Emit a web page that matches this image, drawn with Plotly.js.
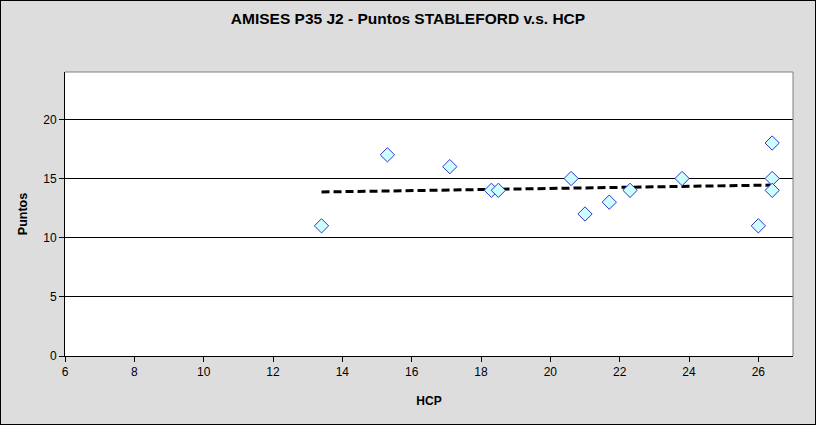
<!DOCTYPE html>
<html>
<head>
<meta charset="utf-8">
<script src="https://cdn.plot.ly/plotly-3.0.1.min.js"></script>
<style>
html,body{margin:0;padding:0;background:#DDDDDD;}
#wrap{position:relative;width:816px;height:425px;}
#chart{width:816px;height:425px;}
#frame{position:absolute;left:0;top:0;width:814px;height:423px;border:1px solid #000;pointer-events:none;}
</style>
</head>
<body>
<div id="wrap"><div id="chart"></div><div id="frame"></div></div>
<script>
const hcp = [13.4, 15.3, 17.1, 18.3, 18.5, 20.6, 21.0, 21.7, 22.3, 23.8, 26.0, 26.4, 26.4, 26.4];
const puntos = [11, 17, 16, 14, 14, 15, 12, 13, 14, 15, 11, 18, 15, 14];
const titleText = 'AMISES P35 J2 - Puntos STABLEFORD v.s. HCP';
const xTitle = 'HCP';
const yTitle = 'Puntos';

// linear trendline (least squares) computed from the data
const n = hcp.length;
const mx = hcp.reduce((a,b)=>a+b,0)/n;
const my = puntos.reduce((a,b)=>a+b,0)/n;
let sxy = 0, sxx = 0;
for (let i=0;i<n;i++){ sxy += (hcp[i]-mx)*(puntos[i]-my); sxx += (hcp[i]-mx)**2; }
const slope = sxy/sxx, icpt = my - slope*mx;
const xmin = Math.min(...hcp), xmax = Math.max(...hcp);
const trendX = [xmin, xmax];
const trendY = trendX.map(x => icpt + slope*x);

const font = {family: 'Arial, "Liberation Sans", sans-serif', color: '#000'};

const data = [
  {x: trendX, y: trendY, type: 'scatter', mode: 'lines',
   line: {color: '#000', width: 3, dash: '8px,4px'}, hoverinfo: 'skip'},
  {x: hcp, y: puntos, type: 'scatter', mode: 'markers',
   marker: {symbol: 'diamond', size: 11, color: '#CCFFFF', line: {color: '#3333CC', width: 1}}}
];

const layout = {
  width: 816, height: 425,
  paper_bgcolor: '#DDDDDD', plot_bgcolor: '#FFFFFF',
  margin: {l: 65, r: 23, t: 72, b: 69},
  showlegend: false,
  font: Object.assign({size: 12}, font),
  title: {text: '<b>' + titleText + '</b>', font: Object.assign({size: 15.5}, font),
          x: 0.5, xanchor: 'center', y: 1 - 19/425, yanchor: 'middle'},
  xaxis: {range: [6, 27], dtick: 2, tick0: 6, showgrid: false, zeroline: false,
          showline: true, linecolor: '#000', linewidth: 1,
          ticks: 'outside', ticklen: 5, tickcolor: '#000',
          tickfont: Object.assign({size: 12}, font),
          title: {text: '<b>' + xTitle + '</b>', font: Object.assign({size: 12}, font), standoff: 18}},
  yaxis: {range: [0, 24], dtick: 5, tick0: 0, showgrid: true, gridcolor: '#000', gridwidth: 1,
          zeroline: false, showline: true, linecolor: '#000', linewidth: 1,
          ticks: 'outside', ticklen: 5, tickcolor: '#000',
          tickfont: Object.assign({size: 12}, font),
          title: {text: '<b>' + yTitle + '</b>', font: Object.assign({size: 12.5}, font), standoff: 12}},
  shapes: [
    {type: 'line', xref: 'paper', yref: 'paper', x0: 0, x1: 1, y0: 1, y1: 1, line: {color: '#808080', width: 1}},
    {type: 'line', xref: 'paper', yref: 'paper', x0: 1, x1: 1, y0: 0, y1: 1, line: {color: '#808080', width: 1}}
  ]
};

Plotly.newPlot('chart', data, layout, {displayModeBar: false, staticPlot: true});
</script>
</body>
</html>
